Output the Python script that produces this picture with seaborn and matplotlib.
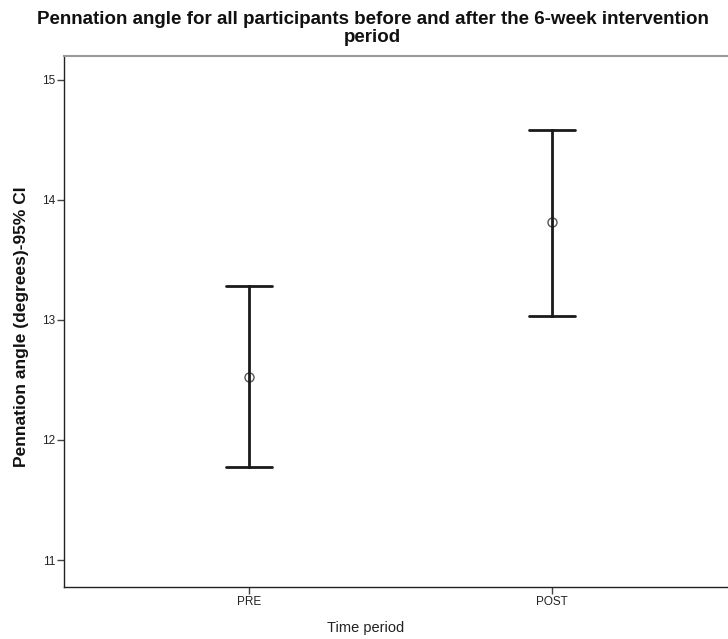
import matplotlib
matplotlib.use("Agg")
import matplotlib.pyplot as plt
import seaborn as sns
import pandas as pd

# Time points and the 95% confidence interval summary of pennation angle (degrees)
periods = ["PRE", "POST"]
ci_lower = [11.775, 13.033]
means = [12.525, 13.817]
ci_upper = [13.283, 14.583]
y_ticks = [11, 12, 13, 14, 15]

# Long table: each period holds its lower bound, mean and upper bound;
# the median gives the mean point, min/max give the interval ends.
rows = []
for p, lo, m, hi in zip(periods, ci_lower, means, ci_upper):
    for v in (lo, m, hi):
        rows.append({"Time period": p, "angle": v})
df = pd.DataFrame(rows)

sns.set_theme(style="white")
plt.rcParams["font.family"] = ["Liberation Sans", "DejaVu Sans"]

fig = plt.figure(figsize=(7.28, 6.39), dpi=100)
ax = fig.add_axes([64 / 728, 52 / 639, 1 - 64 / 728, (587 - 56) / 639])

sns.pointplot(
    data=df, x="Time period", y="angle", order=periods,
    estimator="median", errorbar=lambda v: (v.min(), v.max()),
    capsize=0.15, linestyle="none", color="#222222",
    markers="o", markersize=6.5,
    markerfacecolor="white", markeredgecolor="#555555", markeredgewidth=1.0,
    err_kws={"linewidth": 2.0, "color": "#1a1a1a"},
    ax=ax,
)

ax.set_xlim(-0.611, 1.581)
ax.set_ylim(10.775, 15.2)
ax.set_yticks(y_ticks)
ax.set_yticklabels([str(t) for t in y_ticks])

ax.tick_params(axis="both", which="major", direction="out", length=5, width=1,
               color="#444444", labelsize=8.5, labelcolor="#222222", pad=1.5,
               left=True, bottom=True)

for side in ("left", "bottom"):
    ax.spines[side].set_color("#222222")
    ax.spines[side].set_linewidth(1.0)
ax.spines["top"].set_color("#999999")
ax.spines["top"].set_linewidth(1.5)
ax.spines["right"].set_visible(False)

ax.set_xlabel("Time period", fontsize=10.5, color="#222222")
ax.xaxis.set_label_coords(0.455, -0.064)
ax.set_ylabel("Pennation angle (degrees)-95% CI", fontsize=12.5,
              fontweight="bold", color="#111111")
ax.yaxis.set_label_coords(-0.053, 0.49)

fig.text(0.512, 0.983,
         "Pennation angle for all participants before and after the 6-week intervention\nperiod",
         ha="center", va="top", fontsize=13.5, fontweight="bold",
         color="#111111", linespacing=1.08)

fig.savefig("out.png", dpi=100, facecolor="white")
